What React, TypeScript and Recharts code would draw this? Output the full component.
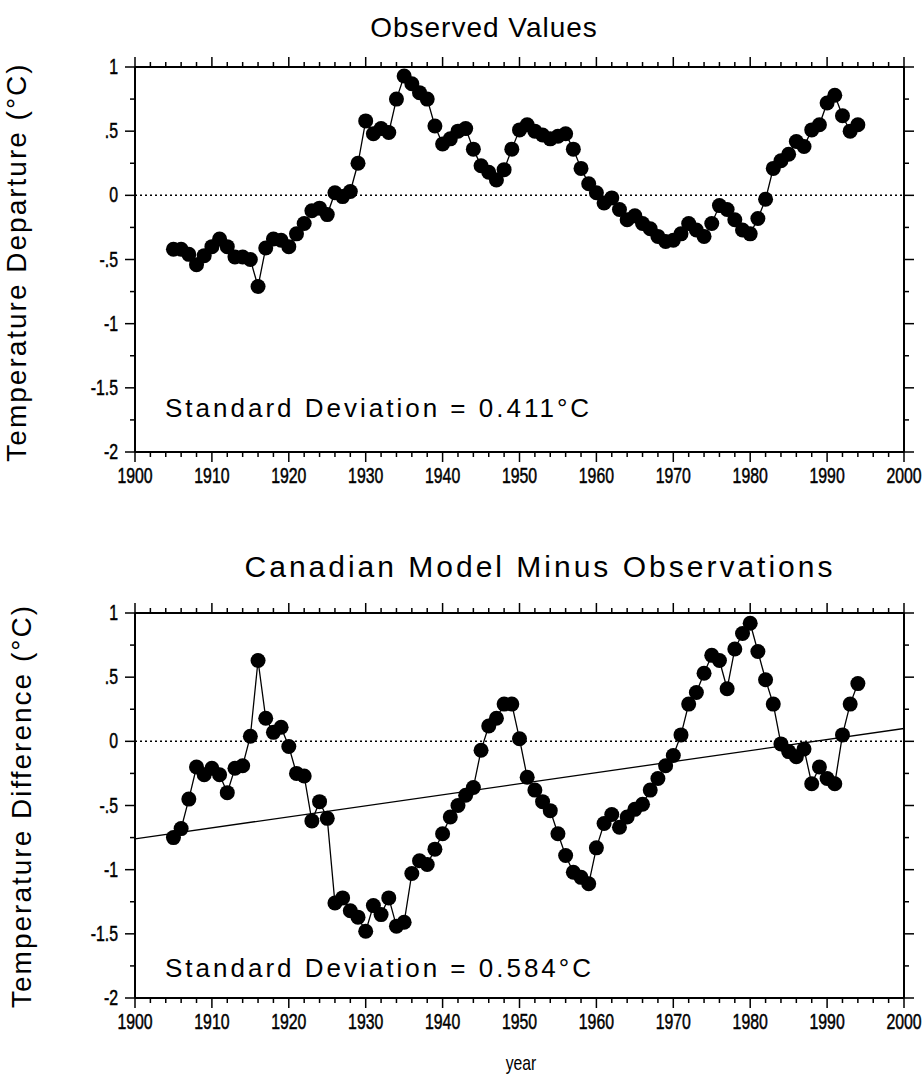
import { LineChart, Line, XAxis, YAxis, ReferenceLine } from "recharts";

// yearly values, 1905..1994
const FIRST_YEAR = 1905;

const OBSERVED = [
  -0.42, -0.42, -0.46, -0.54, -0.47, -0.4, -0.34, -0.4, -0.48, -0.48,
  -0.5, -0.71, -0.41, -0.34, -0.35, -0.4, -0.3, -0.22, -0.12, -0.1,
  -0.15, 0.02, -0.01, 0.03, 0.25, 0.58, 0.48, 0.52, 0.49, 0.75,
  0.93, 0.87, 0.8, 0.75, 0.54, 0.4, 0.44, 0.5, 0.52, 0.36,
  0.23, 0.18, 0.12, 0.2, 0.36, 0.51, 0.55, 0.5, 0.47, 0.44,
  0.46, 0.48, 0.36, 0.21, 0.09, 0.02, -0.06, -0.02, -0.11, -0.19,
  -0.16, -0.22, -0.26, -0.32, -0.36, -0.35, -0.3, -0.22, -0.27, -0.32,
  -0.22, -0.08, -0.11, -0.19, -0.27, -0.3, -0.18, -0.03, 0.21, 0.27,
  0.32, 0.42, 0.38, 0.51, 0.55, 0.72, 0.78, 0.62, 0.5, 0.55,
];

const MODEL_MINUS_OBS = [
  -0.75, -0.68, -0.45, -0.2, -0.26, -0.21, -0.26, -0.4, -0.21, -0.19,
  0.04, 0.63, 0.18, 0.07, 0.11, -0.04, -0.25, -0.27, -0.62, -0.47,
  -0.6, -1.26, -1.22, -1.32, -1.37, -1.48, -1.28, -1.35, -1.22, -1.44,
  -1.41, -1.03, -0.93, -0.96, -0.84, -0.72, -0.59, -0.5, -0.42, -0.36,
  -0.07, 0.12, 0.18, 0.29, 0.29, 0.02, -0.28, -0.38, -0.47, -0.54,
  -0.72, -0.89, -1.02, -1.06, -1.11, -0.83, -0.64, -0.57, -0.67, -0.59,
  -0.53, -0.49, -0.38, -0.29, -0.19, -0.11, 0.05, 0.29, 0.38, 0.53,
  0.67, 0.63, 0.41, 0.72, 0.84, 0.92, 0.7, 0.48, 0.29, -0.02,
  -0.08, -0.12, -0.06, -0.33, -0.2, -0.29, -0.33, 0.05, 0.29, 0.45,
];

const TREND_YEARS = [1900, 2000];
const TREND_VALUES = [-0.76, 0.1];

const YEAR_TICKS = [
  1900, 1902, 1904, 1906, 1908, 1910, 1912, 1914, 1916, 1918, 1920, 1922, 1924, 1926, 1928,
  1930, 1932, 1934, 1936, 1938, 1940, 1942, 1944, 1946, 1948, 1950, 1952, 1954, 1956, 1958,
  1960, 1962, 1964, 1966, 1968, 1970, 1972, 1974, 1976, 1978, 1980, 1982, 1984, 1986, 1988,
  1990, 1992, 1994, 1996, 1998, 2000,
];
const VALUE_TICKS = [-2, -1.75, -1.5, -1.25, -1, -0.75, -0.5, -0.25, 0, 0.25, 0.5, 0.75, 1];

const FONT = '"Liberation Sans", Arial, Helvetica, sans-serif';
const AXIS = { stroke: "#000", strokeWidth: 2 };
const PLOT_LEFT = 135;
const PLOT_RIGHT = 904;

const toRows = (values: number[]) => values.map((value, i) => ({ year: FIRST_YEAR + i, value }));
const TREND = TREND_YEARS.map((year, i) => ({ year, value: TREND_VALUES[i] }));

const fmtValue = (v: number) => {
  if (v === 0) return "0";
  return (v < 0 ? "-" : "") + String(Math.abs(v)).replace(/^0/, "");
};

const isHalf = (v: number) => Math.abs(v * 2 - Math.round(v * 2)) < 1e-6;

function tickText(x: number, y: number, anchor: string, label: string | number) {
  return (
    <text
      transform={`translate(${x},${y}) scale(0.72,1)`}
      textAnchor={anchor}
      fontSize={22}
      fontFamily={FONT}
      fill="#000"
      stroke="#000"
      strokeWidth={0.5}
    >
      {label}
    </text>
  );
}

function BottomTick(p: any) {
  const v = p.payload.value;
  const major = v % 10 === 0;
  return (
    <g>
      <line x1={p.x} x2={p.x} y1={p.y} y2={p.y + (major ? 10 : 5)} stroke="#000" strokeWidth={1.5} />
      {major && tickText(p.x, p.y + 31, "middle", v)}
    </g>
  );
}

function TopTick(p: any) {
  const major = p.payload.value % 10 === 0;
  return <line x1={p.x} x2={p.x} y1={p.y} y2={p.y - (major ? 10 : 5)} stroke="#000" strokeWidth={1.5} />;
}

function LeftTick(p: any) {
  const v = p.payload.value;
  const major = isHalf(v);
  return (
    <g>
      <line x1={p.x} x2={p.x - (major ? 10 : 5)} y1={p.y} y2={p.y} stroke="#000" strokeWidth={1.5} />
      {major && tickText(p.x - 17, p.y + 7, "end", fmtValue(v))}
    </g>
  );
}

function RightTick(p: any) {
  const major = isHalf(p.payload.value);
  return <line x1={p.x} x2={p.x + (major ? 10 : 5)} y1={p.y} y2={p.y} stroke="#000" strokeWidth={1.5} />;
}

function Panel({ values, trend, height, top, bottom }: { values: number[]; trend?: boolean; height: number; top: number; bottom: number }) {
  // axes take 1px each, so margins are trimmed by one
  return (
    <LineChart
      width={923}
      height={height}
      data={toRows(values)}
      margin={{ top: top - 1, right: 923 - PLOT_RIGHT - 1, bottom: bottom - 1, left: PLOT_LEFT - 1 }}
    >
      <XAxis
        xAxisId="b"
        dataKey="year"
        type="number"
        domain={[1900, 2000]}
        ticks={YEAR_TICKS}
        interval={0}
        height={1}
        tickSize={0}
        tickMargin={0}
        tickLine={false}
        axisLine={AXIS}
        tick={(p: any) => <BottomTick {...p} />}
        allowDataOverflow
      />
      <XAxis
        xAxisId="t"
        orientation="top"
        dataKey="year"
        type="number"
        domain={[1900, 2000]}
        ticks={YEAR_TICKS}
        interval={0}
        height={1}
        tickSize={0}
        tickMargin={0}
        tickLine={false}
        axisLine={AXIS}
        tick={(p: any) => <TopTick {...p} />}
        allowDataOverflow
      />
      <YAxis
        yAxisId="l"
        type="number"
        domain={[-2, 1]}
        ticks={VALUE_TICKS}
        interval={0}
        width={1}
        tickSize={0}
        tickMargin={0}
        tickLine={false}
        axisLine={AXIS}
        tick={(p: any) => <LeftTick {...p} />}
        allowDataOverflow
      />
      <YAxis
        yAxisId="r"
        orientation="right"
        type="number"
        domain={[-2, 1]}
        ticks={VALUE_TICKS}
        interval={0}
        width={1}
        tickSize={0}
        tickMargin={0}
        tickLine={false}
        axisLine={AXIS}
        tick={(p: any) => <RightTick {...p} />}
        allowDataOverflow
      />
      <ReferenceLine xAxisId="b" yAxisId="l" y={0} stroke="#000" strokeWidth={1.5} strokeDasharray="2 3" />
      {trend && (
        <Line
          xAxisId="b"
          yAxisId="l"
          data={TREND}
          dataKey="value"
          stroke="#000"
          strokeWidth={1.3}
          dot={false}
          activeDot={false}
          isAnimationActive={false}
        />
      )}
      <Line
        xAxisId="b"
        yAxisId="l"
        dataKey="value"
        stroke="#000"
        strokeWidth={1.3}
        dot={{ r: 7.5, fill: "#000", stroke: "none" }}
        activeDot={false}
        isAnimationActive={false}
      />
    </LineChart>
  );
}

const textBase: React.CSSProperties = {
  position: "absolute",
  fontFamily: FONT,
  color: "#000",
  whiteSpace: "nowrap",
  lineHeight: 1,
};

function Title({ x, y, size, spacing, children }: { x: number; y: number; size: number; spacing: number; children: string }) {
  return (
    <div style={{ ...textBase, left: x, top: y, fontSize: size, letterSpacing: spacing, transform: "translate(-50%,-50%)" }}>
      {children}
    </div>
  );
}

function YLabel({ x, y, children }: { x: number; y: number; children: string }) {
  return (
    <div style={{ ...textBase, left: x, top: y, fontSize: 28, letterSpacing: 2, transform: "translate(-50%,-50%) rotate(-90deg)" }}>
      {children}
    </div>
  );
}

function Note({ y, children }: { y: number; children: string }) {
  return (
    <div style={{ ...textBase, left: 165, top: y, fontSize: 26, letterSpacing: 3, transform: "translateY(-50%)" }}>
      {children}
    </div>
  );
}

export default function App() {
  return (
    <div style={{ position: "absolute", left: 0, top: 0, width: 923, height: 1076, background: "#fff", overflow: "hidden" }}>
      <div style={{ position: "absolute", left: 0, top: 0 }}>
        <Panel values={OBSERVED} height={520} top={67} bottom={68} />
      </div>
      <div style={{ position: "absolute", left: 0, top: 520 }}>
        <Panel values={MODEL_MINUS_OBS} trend height={556} top={93} bottom={78} />
      </div>
      <Title x={484} y={28} size={28} spacing={1}>Observed Values</Title>
      <Title x={540} y={567} size={30} spacing={3}>Canadian Model Minus Observations</Title>
      <YLabel x={17} y={262}>Temperature Departure (°C)</YLabel>
      <YLabel x={22} y={806}>Temperature Difference (°C)</YLabel>
      <Note y={408}>Standard Deviation =  0.411°C</Note>
      <Note y={968}>Standard Deviation =  0.584°C</Note>
      <div style={{ ...textBase, left: 521, top: 1062, fontSize: 21, transform: "translate(-50%,-50%) scale(0.75,1)" }}>year</div>
    </div>
  );
}
